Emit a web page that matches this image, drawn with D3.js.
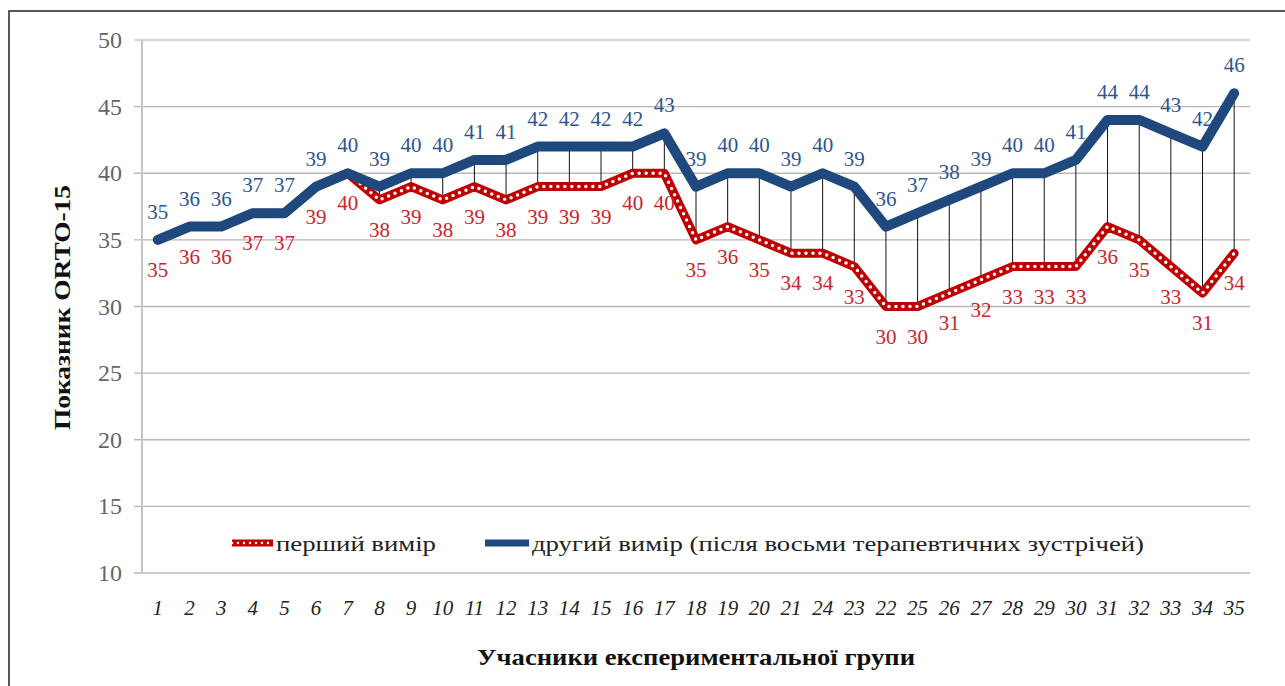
<!DOCTYPE html>
<html>
<head>
<meta charset="utf-8">
<script src="https://cdn.jsdelivr.net/npm/d3@7"></script>
<style>
  body { margin: 0; background: #fff; }
</style>
</head>
<body>
<div id="chart"></div>
<script>
// participants (order as in the source chart)
const participants = ["1","2","3","4","5","6","7","8","9","10","11","12","13","14","15","16","17",
    "18","19","20","21","24","23","22","25","26","27","28","29","30","31","32","33","34","35"];
// first measurement
const firstScores = [35,36,36,37,37,39,40,38,39,38,39,38,39,39,39,40,40,
    35,36,35,34,34,33,30,30,31,32,33,33,33,36,35,33,31,34];
// second measurement (after eight therapy meetings)
const secondScores = [35,36,36,37,37,39,40,39,40,40,41,41,42,42,42,42,43,
    39,40,40,39,40,39,36,37,38,39,40,40,41,44,44,43,42,46];
const yTicks = [10,15,20,25,30,35,40,45,50];
const seriesNames = ["перший вимір", "другий вимір (після восьми терапевтичних зустрічей)"];

const SERIF = "'Liberation Serif', 'DejaVu Serif', 'Times New Roman', serif";
const W = 1285, H = 686;
const svg = d3.select("#chart").append("svg")
    .attr("width", W)
    .attr("height", H)
    .attr("font-family", SERIF)
    .style("font-family", SERIF);

// outer frame
svg.append("rect")
    .attr("x", 9).attr("y", 11)
    .attr("width", W).attr("height", H)
    .attr("fill", "none")
    .attr("stroke", "#222")
    .attr("stroke-width", 1.5);

const x = d3.scaleBand().domain(participants).range([142, 1250]);
const y = d3.scaleLinear().domain([10, 50]).range([573, 40]);
const cx = d => x(d) + x.bandwidth() / 2;

// gridlines + y tick labels
const g = svg.append("g");
g.selectAll(".grid")
    .data(yTicks)
    .enter().append("line")
    .attr("x1", 134).attr("x2", 1250)
    .attr("y1", d => y(d)).attr("y2", d => y(d))
    .attr("stroke", d => d == 50 ? "#dadada" : "#b8b8b8")
    .attr("stroke-width", d => d == 50 ? 2.5 : 1.3);

g.selectAll(".ylab")
    .data(yTicks)
    .enter().append("text")
    .attr("x", 122)
    .attr("y", d => y(d) + 8)
    .attr("text-anchor", "end")
    .attr("font-size", 24)
    .attr("fill", "#666")
    .text(d => d);

// y axis line
g.append("line")
    .attr("x1", 142).attr("x2", 142)
    .attr("y1", y(50)).attr("y2", y(10))
    .attr("stroke", "#c4c4c4")
    .attr("stroke-width", 2);

// x tick labels
g.selectAll(".xlab")
    .data(participants)
    .enter().append("text")
    .attr("x", d => cx(d))
    .attr("y", 615)
    .attr("text-anchor", "middle")
    .attr("font-size", 21)
    .attr("font-style", "italic")
    .attr("fill", "#222")
    .text(d => d);

// high-low lines between the two measurements
g.selectAll(".drop")
    .data(participants)
    .enter().append("line")
    .attr("x1", d => cx(d)).attr("x2", d => cx(d))
    .attr("y1", (d, i) => y(secondScores[i]))
    .attr("y2", (d, i) => y(firstScores[i]))
    .attr("stroke", "#111")
    .attr("stroke-width", 1);

const line = d3.line()
    .x((d, i) => cx(participants[i]))
    .y(d => y(d));

// first measurement: red line with white dots
g.append("path")
    .attr("d", line(firstScores))
    .attr("fill", "none")
    .attr("stroke", "#c00000")
    .attr("stroke-width", 9)
    .attr("stroke-linejoin", "round")
    .attr("stroke-linecap", "round");
g.append("path")
    .attr("d", line(firstScores))
    .attr("fill", "none")
    .attr("stroke", "#fff")
    .attr("stroke-width", 3.5)
    .attr("stroke-dasharray", "0 7")
    .attr("stroke-linecap", "round");

// second measurement: thick navy line
g.append("path")
    .attr("d", line(secondScores))
    .attr("fill", "none")
    .attr("stroke", "#1f497d")
    .attr("stroke-width", 10)
    .attr("stroke-linejoin", "round")
    .attr("stroke-linecap", "round");

// data labels
g.selectAll(".lab2")
    .data(secondScores)
    .enter().append("text")
    .attr("x", (d, i) => cx(participants[i]))
    .attr("y", d => y(d) - 21)
    .attr("text-anchor", "middle")
    .attr("font-size", 21)
    .attr("fill", "#2e5590")
    .text(d => d);

g.selectAll(".lab1")
    .data(firstScores)
    .enter().append("text")
    .attr("x", (d, i) => cx(participants[i]))
    .attr("y", d => y(d) + 37)
    .attr("text-anchor", "middle")
    .attr("font-size", 21)
    .attr("fill", "#c8262b")
    .text(d => d);

// legend
const leg = svg.append("g");
leg.append("line")
    .attr("x1", 232).attr("x2", 273)
    .attr("y1", 543).attr("y2", 543)
    .attr("stroke", "#c00000").attr("stroke-width", 7);
leg.append("line")
    .attr("x1", 232).attr("x2", 273)
    .attr("y1", 543).attr("y2", 543)
    .attr("stroke", "#fff").attr("stroke-width", 2.5)
    .attr("stroke-dasharray", "0 6").attr("stroke-linecap", "round");
leg.append("text")
    .attr("x", 276).attr("y", 551)
    .attr("font-size", 22)
    .attr("fill", "#222")
    .attr("textLength", 160)
    .attr("lengthAdjust", "spacingAndGlyphs")
    .text(seriesNames[0]);
leg.append("line")
    .attr("x1", 485).attr("x2", 529)
    .attr("y1", 543).attr("y2", 543)
    .attr("stroke", "#1f497d").attr("stroke-width", 7);
leg.append("text")
    .attr("x", 532).attr("y", 551)
    .attr("font-size", 22)
    .attr("fill", "#222")
    .attr("textLength", 612)
    .attr("lengthAdjust", "spacingAndGlyphs")
    .text(seriesNames[1]);

// axis titles
svg.append("text")
    .attr("x", 477).attr("y", 665)
    .attr("font-size", 23)
    .attr("font-weight", "bold")
    .attr("fill", "#111")
    .attr("textLength", 438)
    .attr("lengthAdjust", "spacingAndGlyphs")
    .text("Учасники експериментальної групи");

svg.append("text")
    .attr("transform", "translate(70,430) rotate(-90)")
    .attr("font-size", 23)
    .attr("font-weight", "bold")
    .attr("fill", "#111")
    .attr("textLength", 245)
    .attr("lengthAdjust", "spacingAndGlyphs")
    .text("Показник ORTO-15");
</script>
</body>
</html>
